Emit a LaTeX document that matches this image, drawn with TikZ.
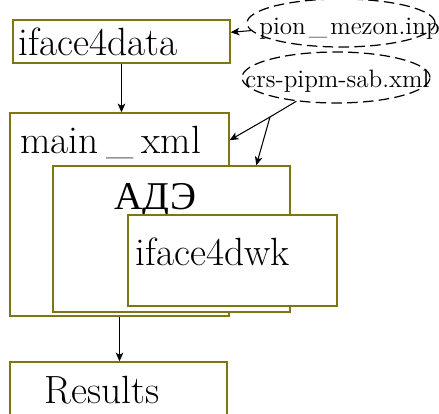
\documentclass[tikz,border=0pt]{standalone}
\usepackage{fontspec}
\newfontfamily\cyrfont{Liberation Serif}
\usepackage{xcolor}
\usepackage{tikz}
\usetikzlibrary{arrows.meta,shapes,positioning,calc}

\begin{document}
\begin{tikzpicture}[
    font=\fontsize{22.4}{27}\selectfont,
    box/.style={draw=olive!85!black, line width=0.8pt, fill=white, inner sep=0pt},
    lbl/.style={anchor=base west, inner sep=0pt},
    file/.style={draw, dashed, dash pattern=on 6pt off 3pt, line width=0.7pt,
                 ellipse, inner sep=0pt},
    ftxt/.style={anchor=base west, inner sep=0pt, font=\fontsize{14.3}{17}\selectfont},
    arr/.style={-{Stealth[length=5pt, width=4.4pt, inset=1.4pt]}, line width=0.6pt}
]
\useasboundingbox (0,0) rectangle (8.78,-8.26);

%% INPUT FILES
\node[file, minimum width=3.76cm, minimum height=0.96cm] (pion) at (6.82,-0.46) {};
\node[ftxt] (piontxt) at (5.18,-0.70) {pion\kern0.12em\_\kern0.12em mezon.inp};
\node[file, minimum width=3.76cm, minimum height=1.02cm] (crs) at (6.72,-1.55) {};
\node[ftxt] (crstxt) at (4.90,-1.74) {crs-pipm-sab.xml};

%% IFACE4DATA
\node[box, minimum width=4.34cm, minimum height=0.86cm] (iface) at (2.43,-0.83) {};
\node[lbl] (ifacetxt) at (0.36,-1.10) {iface4data};

%% MAIN_XML, ADE, IFACE4DWK
\node[box, minimum width=4.38cm, minimum height=4.06cm] (main) at (2.39,-4.29) {};
\node[lbl] (maintxt) at (0.40,-3.06) {main\kern0.2em\_\kern0.2em xml};
\node[box, minimum width=4.74cm, minimum height=2.92cm] (ade) at (3.43,-4.78) {};
\node[lbl] (adetxt) at (2.28,-4.18) {\cyrfont АДЭ};
\node[box, minimum width=4.18cm, minimum height=1.82cm] (dwk) at (4.65,-5.21) {};
\node[lbl] (dwktxt) at (2.70,-5.30) {iface4dwk};

%% RESULTS
\node[box, minimum width=4.34cm, minimum height=1.2cm] (res) at (2.37,-7.84) {};
\node[lbl] (restxt) at (0.88,-8.06) {Results};

%% ARROWS
\draw[arr] (pion) -- (iface);
\draw[arr] (iface.south) -- (iface.south |- main.north);

\coordinate (fork) at (5.40,-2.34);
\draw[line width=0.6pt] (crs) -- (fork);
\draw[arr] (fork) -- (main.34);
\draw[arr] (fork) -- (ade.41);

\draw[arr] (main.south) -- (main.south |- res.north);

\end{tikzpicture}
\end{document}
